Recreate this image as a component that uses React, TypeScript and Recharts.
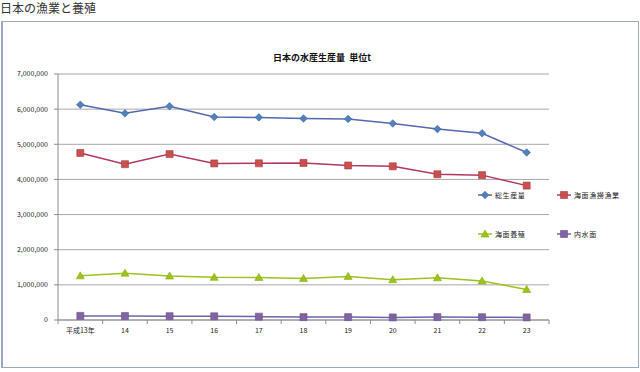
import React from "react";
import { LineChart, Line, XAxis, YAxis, CartesianGrid } from "recharts";

const years = ["平成13年", "14", "15", "16", "17", "18", "19", "20", "21", "22", "23"];
const totalProduction = [6126000, 5880000, 6083000, 5776000, 5765000, 5735000, 5720000, 5592000, 5432000, 5313000, 4766000];
const marineFishing = [4753000, 4434000, 4722000, 4455000, 4457000, 4470000, 4397000, 4373000, 4147000, 4122000, 3824000];
const marineAquaculture = [1256000, 1333000, 1252000, 1215000, 1212000, 1183000, 1241000, 1146000, 1202000, 1111000, 869000];
const inlandWater = [117000, 113000, 109000, 106000, 96000, 82000, 82000, 73000, 83000, 80000, 73000];
const yTicks = [0, 1000000, 2000000, 3000000, 4000000, 5000000, 6000000, 7000000];

const FONT = '"Noto Sans CJK JP", "Noto Sans", sans-serif';
const W = 640;
const H = 372;
const PLOT_LEFT = 58;
const PLOT_RIGHT = 549;
const PLOT_TOP = 74;
const PLOT_BOTTOM = 320;
const BAND = (PLOT_RIGHT - PLOT_LEFT) / years.length;

const series = [
  { key: "total", name: "総生産量", values: totalProduction, line: "#5468b0", fill: "#4f81bd", stroke: "#3f6aa8", shape: "diamond" },
  { key: "fishing", name: "海面漁撈漁業", values: marineFishing, line: "#b3385e", fill: "#c9504e", stroke: "#a33c3c", shape: "square" },
  { key: "aquaculture", name: "海面養殖", values: marineAquaculture, line: "#9cc41a", fill: "#9cc41a", stroke: "#86a814", shape: "triangle" },
  { key: "inland", name: "内水面", values: inlandWater, line: "#6e62ac", fill: "#8064a2", stroke: "#6a4f90", shape: "square" },
];

const data = years.map((year, i) => {
  const row: Record<string, string | number> = { year };
  series.forEach((s) => {
    row[s.key] = s.values[i];
  });
  return row;
});

function markerPath(shape: string, cx: number, cy: number) {
  if (shape === "diamond") {
    return `M${cx},${cy - 3.8}L${cx + 3.8},${cy}L${cx},${cy + 3.8}L${cx - 3.8},${cy}Z`;
  }
  if (shape === "triangle") {
    return `M${cx},${cy - 4}L${cx + 4},${cy + 3}L${cx - 4},${cy + 3}Z`;
  }
  return `M${cx - 3.5},${cy - 3.5}h7v7h-7Z`;
}

function makeDot(shape: string, fill: string, stroke: string) {
  return (props: any) => {
    const { cx, cy, index } = props;
    if (cx == null || cy == null) return <g key={index} />;
    return <path key={index} d={markerPath(shape, cx, cy)} fill={fill} stroke={stroke} strokeWidth={0.6} />;
  };
}

function XTick(props: any) {
  const { x, y, payload, index } = props;
  const axisY = y - 8;
  return (
    <g>
      {index === 0 && (
        <line x1={x - BAND / 2} x2={x - BAND / 2} y1={axisY} y2={axisY + 4} stroke="#8c8c8c" />
      )}
      <line x1={x + BAND / 2} x2={x + BAND / 2} y1={axisY} y2={axisY + 4} stroke="#8c8c8c" />
      <text x={x} y={axisY + 13} textAnchor="middle" fontSize={7} fill="#222" fontFamily={FONT}>
        {payload.value}
      </text>
    </g>
  );
}

function LegendItem({ x, y, s }: { x: number; y: number; s: (typeof series)[number] }) {
  return (
    <div style={{ position: "absolute", left: x, top: y - 6, height: 12, display: "flex", alignItems: "center" }}>
      <svg width={16} height={12}>
        <line x1={1} x2={15} y1={6} y2={6} stroke={s.line} strokeWidth={1.5} />
        <path d={markerPath(s.shape, 8, 6)} fill={s.fill} stroke={s.stroke} strokeWidth={0.6} />
      </svg>
      <span style={{ fontSize: 7, fontFamily: FONT, color: "#222", marginLeft: 2, letterSpacing: 0.6 }}>{s.name}</span>
    </div>
  );
}

export default function App() {
  return (
    <div style={{ position: "absolute", left: 0, top: 0, width: W, height: H, background: "#fff", fontFamily: FONT }}>
      <div style={{ position: "absolute", left: 0, top: 1, fontSize: 12, color: "#333", lineHeight: "14px" }}>
        日本の漁業と養殖
      </div>
      <div
        style={{
          position: "absolute",
          left: 1,
          top: 21,
          width: 635,
          height: 345,
          border: "1px solid #98a9c1",
          borderLeftWidth: 2,
        }}
      />
      <div
        style={{
          position: "absolute",
          left: 0,
          width: W,
          top: 51,
          textAlign: "center",
          fontSize: 9,
          fontWeight: "bold",
          color: "#111",
          paddingLeft: 4,
          boxSizing: "border-box",
        }}
      >
        日本の水産生産量&nbsp;&nbsp;単位t
      </div>
      <div style={{ position: "absolute", left: 0, top: 0 }}>
        <LineChart
          width={W}
          height={H}
          data={data}
          margin={{ top: PLOT_TOP, right: W - PLOT_RIGHT, bottom: H - PLOT_BOTTOM - 30, left: PLOT_LEFT - 50 }}
        >
          <CartesianGrid vertical={false} stroke="#a8a8a8" />
          <XAxis
            dataKey="year"
            height={30}
            padding={{ left: BAND / 2, right: BAND / 2 }}
            stroke="#8c8c8c"
            tickLine={false}
            tick={<XTick />}
            interval={0}
          />
          <YAxis
            width={50}
            domain={[0, 7000000]}
            ticks={yTicks}
            stroke="#8c8c8c"
            tickSize={4}
            tickMargin={6}
            tick={{ fontSize: 7, fill: "#222", fontFamily: FONT }}
            tickFormatter={(v: number) => v.toLocaleString("en-US")}
          />
          {series.map((s) => (
            <Line
              key={s.key}
              dataKey={s.key}
              name={s.name}
              type="linear"
              stroke={s.line}
              strokeWidth={1.5}
              dot={makeDot(s.shape, s.fill, s.stroke)}
              activeDot={false}
              isAnimationActive={false}
            />
          ))}
        </LineChart>
      </div>
      <LegendItem x={477} y={195} s={series[0]} />
      <LegendItem x={556} y={195} s={series[1]} />
      <LegendItem x={477} y={234} s={series[2]} />
      <LegendItem x={556} y={234} s={series[3]} />
    </div>
  );
}
